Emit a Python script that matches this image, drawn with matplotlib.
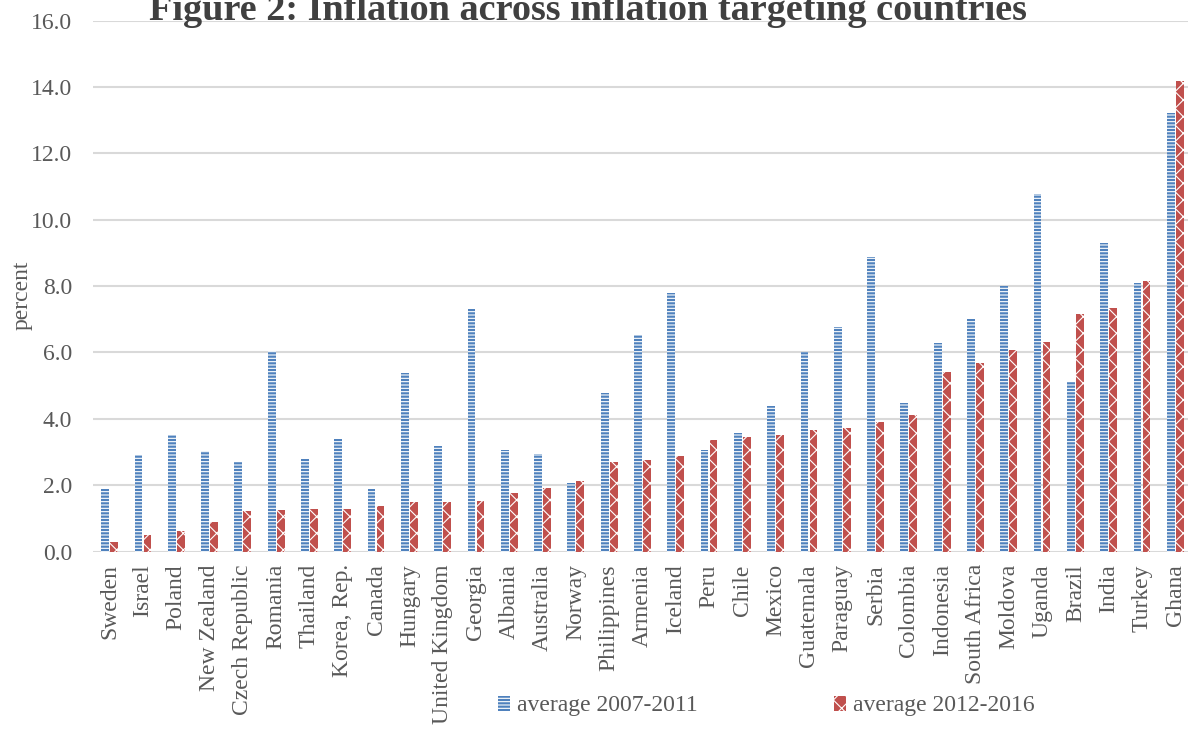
import numpy as np
import matplotlib
matplotlib.use("Agg")
import matplotlib.pyplot as plt

BLUE = "#4F81BD"
RED = "#C0504D"
GREY = "#595959"
GRID = "#D9D9D9"

countries = [
    "Sweden", "Israel", "Poland", "New Zealand", "Czech Republic", "Romania",
    "Thailand", "Korea, Rep.", "Canada", "Hungary", "United Kingdom", "Georgia",
    "Albania", "Australia", "Norway", "Philippines", "Armenia", "Iceland",
    "Peru", "Chile", "Mexico", "Guatemala", "Paraguay", "Serbia", "Colombia",
    "Indonesia", "South Africa", "Moldova", "Uganda", "Brazil", "India",
    "Turkey", "Ghana",
]
avg_2007_2011 = [
    1.88, 2.91, 3.51, 3.04, 2.71, 6.05, 2.79, 3.39, 1.88, 5.38, 3.18, 7.30,
    3.06, 2.94, 2.08, 4.77, 6.53, 7.78, 3.06, 3.57, 4.40, 6.02, 6.78, 8.87,
    4.49, 6.30, 7.02, 8.00, 10.77, 5.12, 9.31, 8.10, 13.20,
]
avg_2012_2016 = [
    0.30, 0.50, 0.62, 0.90, 1.21, 1.26, 1.28, 1.29, 1.38, 1.50, 1.50, 1.54,
    1.76, 1.91, 2.14, 2.70, 2.76, 2.88, 3.36, 3.44, 3.50, 3.67, 3.72, 3.92,
    4.12, 5.41, 5.67, 6.07, 6.31, 7.15, 7.33, 8.14, 14.18,
]
y_ticks = [0, 2, 4, 6, 8, 10, 12, 14, 16]

plt.rcParams["font.family"] = ["Liberation Serif", "DejaVu Serif"]
plt.rcParams["hatch.linewidth"] = 0.8

fig = plt.figure(figsize=(11.88, 7.30), dpi=100)
# axes run slightly past the right edge, like the cropped original
ax = fig.add_axes([0.0783, 0.2443, 0.925, 0.7276])

x = np.arange(len(countries))
w = 0.235
off = 0.135
ax.bar(x - off, avg_2007_2011, width=w, color=BLUE, edgecolor="white",
       linewidth=0, hatch="-----", label="average 2007-2011", zorder=3)
ax.bar(x + off, avg_2012_2016, width=w, color=RED, edgecolor="white",
       linewidth=0, hatch="xx", label="average 2012-2016", zorder=3)

ax.set_xlim(-0.5, len(countries) - 0.5)
ax.set_ylim(0, 16)
ax.set_yticks(y_ticks)
ax.set_yticklabels([f"{v:.1f}" for v in y_ticks])
ax.set_xticks(x)
ax.set_xticklabels(countries, rotation=90)
ax.tick_params(axis="both", length=0, labelsize=17, labelcolor=GREY)
ax.tick_params(axis="y", pad=15)
ax.tick_params(axis="x", pad=9)
ax.grid(axis="y", color=GRID, linewidth=1.5, zorder=0)
for s in ax.spines.values():
    s.set_visible(False)

fig.text(0.0185, 0.595, "percent", rotation=90, ha="center", va="center",
         fontsize=17, color=GREY)
fig.text(0.495, 0.9726, "Figure 2: Inflation across inflation targeting countries",
         ha="center", va="baseline", fontsize=27.5, fontweight="bold", color="#404040")

fig.legend(loc="center", bbox_to_anchor=(0.645, 0.033), ncol=2, frameon=False,
           fontsize=17, labelcolor=GREY, handlelength=0.5, handleheight=0.6,
           handletextpad=0.3, columnspacing=5.8, borderpad=0, borderaxespad=0)

fig.savefig("out.png", dpi=100)
